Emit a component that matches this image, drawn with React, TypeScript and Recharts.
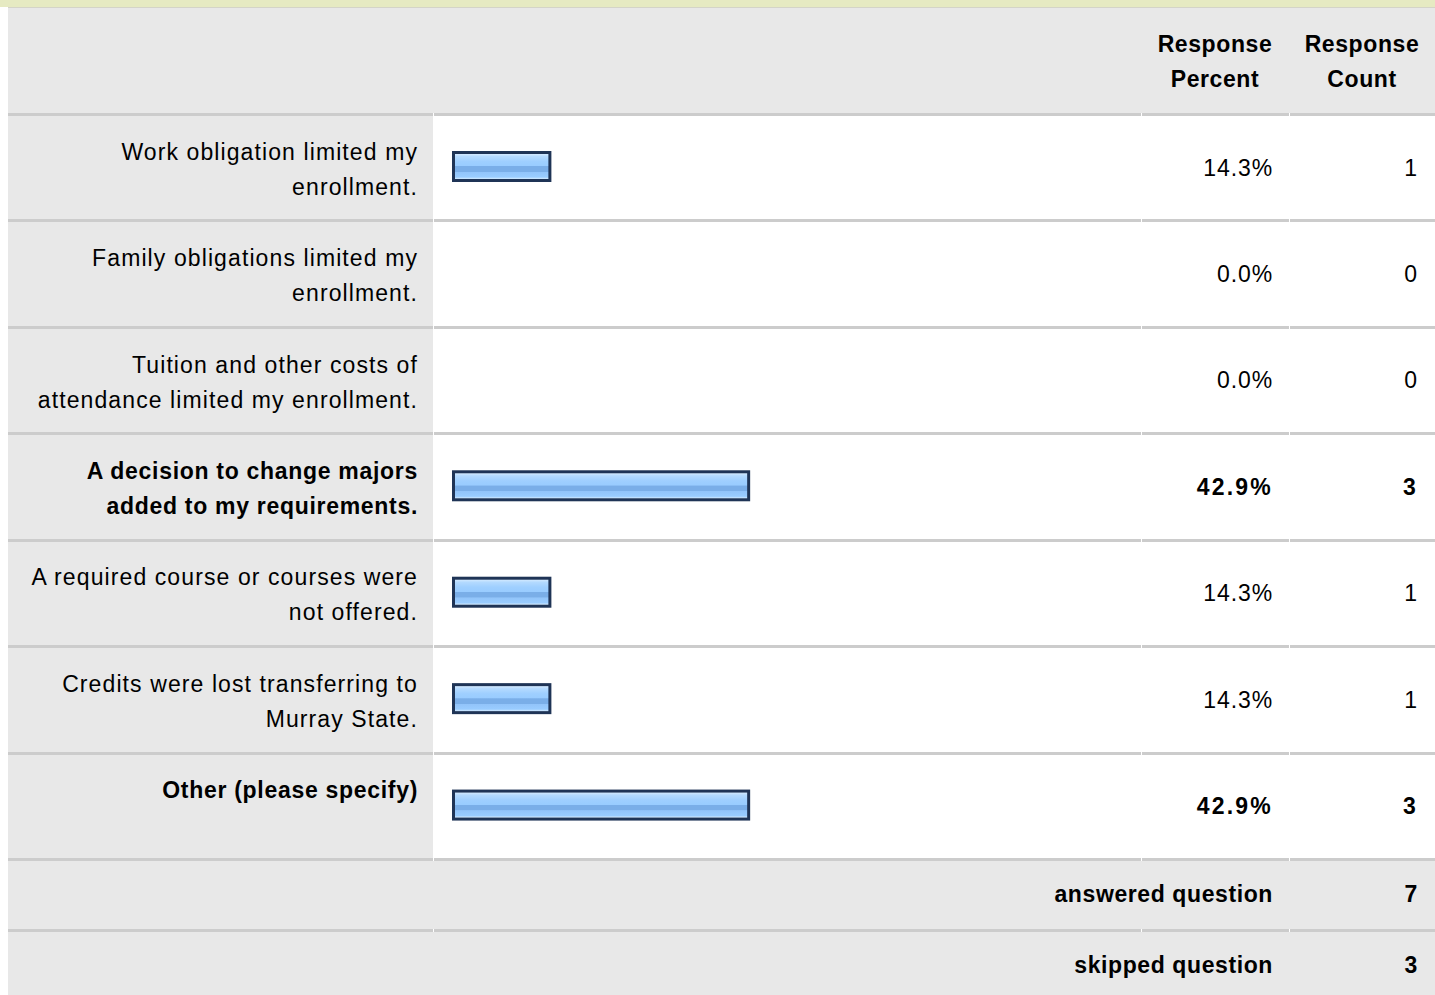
import React from "react";
import { BarChart, Bar, XAxis, YAxis, LabelList } from "recharts";

const categories = [
  "Work obligation limited my\nenrollment.",
  "Family obligations limited my\nenrollment.",
  "Tuition and other costs of\nattendance limited my enrollment.",
  "A decision to change majors\nadded to my requirements.",
  "A required course or courses were\nnot offered.",
  "Credits were lost transferring to\nMurray State.",
  "Other (please specify)",
];
const responsePercent = [14.3, 0.0, 0.0, 42.9, 14.3, 14.3, 42.9];
const responseCount = [1, 0, 0, 3, 1, 1, 3];
const headerLabels = [
  ["Response", "Percent"],
  ["Response", "Count"],
];
const summaryLabels = ["answered question", "skipped question"];
const summaryCounts = [7, 3];

const W = 1435;
const H = 995;
const TOP = 113;
const BOTTOM = 858;
const ROW_H = (BOTTOM - TOP) / categories.length;
const FONT = "'Liberation Sans', Arial, Helvetica, sans-serif";
const GRAY = "#e8e8e8";
const LINE = "#cccccc";

const maxPct = Math.max(...responsePercent);
const isBold = (i: number) => responsePercent[i] === maxPct;

const data = categories.map((label, i) => ({
  label,
  percent: responsePercent[i],
  count: responseCount[i],
}));

function GlossyBar(props: any) {
  const { x, y, width, height, index } = props;
  if (!width || width <= 0) return null;
  const id = `gloss-${index}`;
  return (
    <g>
      <defs>
        <linearGradient id={id} x1="0" y1="0" x2="0" y2="1">
          <stop offset="0%" stopColor="#d4eaff" />
          <stop offset="10%" stopColor="#b4daff" />
          <stop offset="30%" stopColor="#9fcfff" />
          <stop offset="48%" stopColor="#99ccff" />
          <stop offset="50%" stopColor="#7aaee8" />
          <stop offset="70%" stopColor="#7aaee8" />
          <stop offset="72%" stopColor="#92c4fa" />
          <stop offset="92%" stopColor="#99ccff" />
          <stop offset="100%" stopColor="#d6ecff" />
        </linearGradient>
      </defs>
      <rect x={x} y={y} width={width} height={height} fill="#1f3456" />
      <rect x={x + 3} y={y + 3} width={width - 6} height={height - 6} fill={`url(#${id})`} />
    </g>
  );
}

function LabelTick(props: any) {
  const { y, payload } = props;
  const idx = categories.indexOf(payload.value);
  const bold = isBold(idx);
  const lines = String(payload.value).split("\n");
  return (
    <text
      x={418}
      y={y - 6.5}
      textAnchor="end"
      fontFamily={FONT}
      fontSize={23}
      fontWeight={bold ? 700 : 400}
      letterSpacing={bold ? 0.7 : 1.1}
      fill="#000"
    >
      {lines.map((l, k) => (
        <tspan key={k} x={418} dy={k === 0 ? 0 : 35}>
          {l}
        </tspan>
      ))}
    </text>
  );
}

const valueText = (xr: number, fmt: (v: number) => string) => (props: any) => {
  const { y, height, value, index } = props;
  const bold = isBold(index);
  return (
    <text
      x={xr}
      y={y + height / 2 + 9}
      textAnchor="end"
      fontFamily={FONT}
      fontSize={23}
      fontWeight={bold ? 700 : 400}
      letterSpacing={bold ? 2.2 : 0.9}
      fill="#000"
    >
      {fmt(Number(value))}
    </text>
  );
};

const segs = [
  [8, 433],
  [434, 1141],
  [1142, 1289],
  [1290, 1435],
];

function Separator({ y }: { y: number }) {
  return (
    <>
      {segs.map(([a, b], i) => (
        <div
          key={i}
          style={{ position: "absolute", left: a, top: y, width: b - a, height: 3, background: LINE }}
        />
      ))}
    </>
  );
}

const textStyle: React.CSSProperties = {
  position: "absolute",
  fontFamily: FONT,
  fontSize: 23,
  fontWeight: 700,
  color: "#000",
  lineHeight: "35px",
  letterSpacing: 0.6,
  whiteSpace: "nowrap",
};

export default function App() {
  const rowTops = categories.map((_, i) => TOP + i * ROW_H);
  return (
    <div style={{ position: "absolute", left: 0, top: 0, width: W, height: H, background: "#fff", overflow: "hidden" }}>
      {/* top strip */}
      <div style={{ position: "absolute", left: 0, top: 0, width: W, height: 7, background: "#e6eac2" }} />
      <div style={{ position: "absolute", left: 8, top: 7, width: W - 8, height: 1, background: "#d4d4c8" }} />
      {/* header */}
      <div style={{ position: "absolute", left: 8, top: 8, width: W - 8, height: TOP - 8, background: GRAY }} />
      {headerLabels.map((lines, i) => (
        <div
          key={i}
          style={{ ...textStyle, left: i === 0 ? 1141 : 1289, width: i === 0 ? 148 : 146, top: 27, textAlign: "center" }}
        >
          {lines[0]}
          <br />
          {lines[1]}
        </div>
      ))}
      {/* label column */}
      <div style={{ position: "absolute", left: 8, top: TOP, width: 425, height: BOTTOM - TOP, background: GRAY }} />
      {rowTops.map((t, i) => (
        <Separator key={i} y={Math.round(t)} />
      ))}
      <Separator y={BOTTOM} />
      {/* summary rows */}
      <div style={{ position: "absolute", left: 8, top: BOTTOM + 3, width: W - 8, height: 68, background: GRAY }} />
      <Separator y={929} />
      <div style={{ position: "absolute", left: 8, top: 932, width: W - 8, height: H - 932, background: GRAY }} />
      {summaryLabels.map((s, i) => (
        <React.Fragment key={s}>
          <div style={{ ...textStyle, right: W - 1273, top: i === 0 ? 877 : 948 }}>{s}</div>
          <div style={{ ...textStyle, right: W - 1418, top: i === 0 ? 877 : 948 }}>{summaryCounts[i]}</div>
        </React.Fragment>
      ))}
      <BarChart
        width={W}
        height={H}
        data={data}
        layout="vertical"
        margin={{ top: TOP, right: 288, bottom: H - BOTTOM, left: 8 }}
        barCategoryGap={0}
        style={{ position: "absolute", left: 0, top: 0 }}
      >
        <XAxis type="number" domain={[0, 100]} hide />
        <YAxis
          type="category"
          dataKey="label"
          width={444}
          axisLine={false}
          tickLine={false}
          interval={0}
          tick={<LabelTick />}
        />
        <Bar dataKey="percent" barSize={31} shape={<GlossyBar />} isAnimationActive={false}>
          <LabelList dataKey="percent" content={valueText(1273, (v) => `${v.toFixed(1)}%`)} />
          <LabelList dataKey="count" content={valueText(1418, (v) => `${v}`)} />
        </Bar>
      </BarChart>
    </div>
  );
}
